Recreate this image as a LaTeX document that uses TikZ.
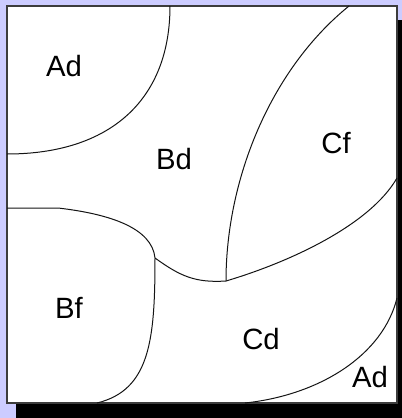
\documentclass[tikz,border=0pt]{standalone}
\usepackage{fontspec}
\setmainfont{Liberation Sans}
\usepackage{xcolor}
\usepackage{tikz}
\usetikzlibrary{positioning}
\definecolor{dBack}{RGB}{204,204,255}
\definecolor{dFrame}{RGB}{60,60,60}
\definecolor{dLine}{RGB}{20,20,20}
\tikzset{
  frame/.style={draw=dFrame, fill=white, line width=1.2pt},
  shade/.style={fill=black, draw=none},
  border/.style={draw=dLine, line width=0.75pt},
  region/.style={font=\fontsize{22}{26}\selectfont, inner sep=0pt},
}

\begin{document}
\begin{tikzpicture}[x=0.75pt, y=-0.75pt]
  % background and shadowed square
  \fill[dBack] (0,0) rectangle (402,418);
  \useasboundingbox (0,0) rectangle (402,418);
  \fill[shade] (16,404) rectangle (402,418);
  \fill[shade] (397,20) rectangle (402,404);
  \draw[frame] (7,6) rectangle (397,403);

  % junctions
  \coordinate (jb) at (155,258);
  \coordinate (jc) at (226,281);

  % borders between regions
  \draw[border] (170,6) .. controls (170,100) and (110,154) .. (7,154);
  \draw[border] (7,208) -- (58,208) .. controls (110,214) and (152,228) .. (jb);
  \draw[border] (jb) .. controls (155,340) and (150,390) .. (97,403);
  \draw[border] (jb) .. controls (180,276) and (195,283) .. (jc);
  \draw[border] (jc) .. controls (226,180) and (270,70) .. (349,6);
  \draw[border] (jc) .. controls (290,262) and (370,225) .. (397,178);
  \draw[border] (397,298) .. controls (383,355) and (320,395) .. (245,403);

  % region labels
  \node[region] (ad1) at (64,66) {Ad};
  \node[region] (bd) at (174,159) {Bd};
  \node[region] (cf) at (336,143) {Cf};
  \node[region] (bf) at (69,308) {Bf};
  \node[region] (cd) at (261,339) {Cd};
  \node[region] (ad2) at (370,377) {Ad};
\end{tikzpicture}
\end{document}
